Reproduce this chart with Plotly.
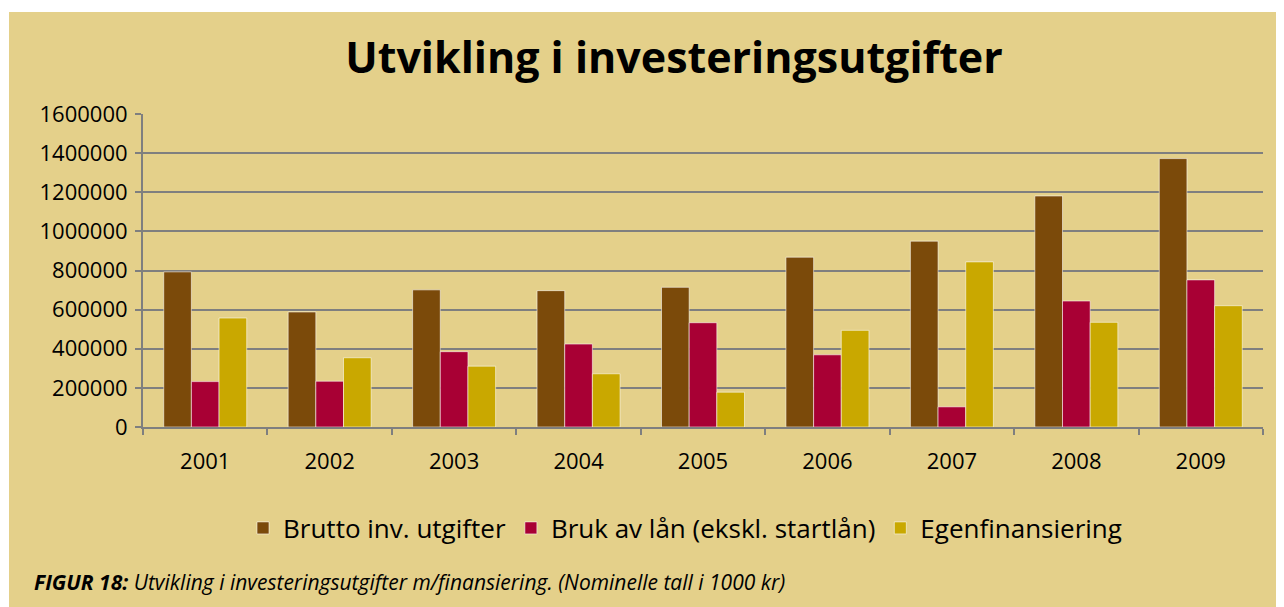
import plotly.graph_objects as go

years = ["2001", "2002", "2003", "2004", "2005", "2006", "2007", "2008", "2009"]
brutto = [793000, 588000, 701000, 697000, 714000, 868000, 950000, 1181000, 1372000]
bruk_laan = [232000, 234000, 385000, 424000, 533000, 369000, 103000, 644000, 752000]
egenfin = [557000, 354000, 311000, 272000, 178000, 494000, 844000, 535000, 620000]
series_names = ["Brutto inv. utgifter", "Bruk av lån (ekskl. startlån)", "Egenfinansiering"]
y_ticks = [0, 200000, 400000, 600000, 800000, 1000000, 1200000, 1400000, 1600000]

colors = ["#7B4A0A", "#A80034", "#C9A800"]
TAN = "#E4D08A"
GRID = "#7F7F7F"
FONT = "Open Sans"

OFF = 8  # page body margin
W, H = 1284 - OFF, 607 - OFF
# screen-space plot box
SL, SR, ST, SB = 143, 1263, 114, 427
L, R, T, B = SL - OFF, W - (SR - OFF), ST - OFF, H - (SB - OFF)
pw, ph = W - L - R, H - T - B

def px(x):  # screen x -> paper
    return (x - SL) / pw

def py(y):  # screen y -> paper
    return (SB - y) / ph

fig = go.Figure()
for name, vals, c in zip(series_names, [brutto, bruk_laan, egenfin], colors):
    fig.add_trace(go.Bar(
        x=years, y=vals, name=name,
        marker=dict(color=c, line=dict(color="rgba(255,255,255,0.55)", width=1)),
    ))

fig.update_layout(
    width=W, height=H,
    margin=dict(l=L, r=R, t=T, b=B),
    paper_bgcolor="white",
    plot_bgcolor="white",
    barmode="group",
    bargap=0.333,
    bargroupgap=0,
    font=dict(family=FONT, color="black", size=22),
    title=dict(
        text="<b>Utvikling i investeringsutgifter</b>",
        font=dict(family=FONT, size=43, color="black"),
        x=px(674), xref="paper", xanchor="center",
        y=1 - (58 - OFF) / H, yref="container", yanchor="middle",
    ),
    showlegend=True,
    legend=dict(
        orientation="h",
        x=px(243), xanchor="left",
        y=py(528), yanchor="middle",
        font=dict(family=FONT, size=26, color="black"),
        bgcolor="rgba(0,0,0,0)",
        traceorder="normal",
    ),
    xaxis=dict(
        type="category",
        showline=True, linecolor=GRID, linewidth=2,
        ticks="outside", tickson="boundaries", ticklen=6, tickwidth=2, tickcolor=GRID,
        showgrid=False,
        tickfont=dict(family=FONT, size=22),
        ticklabelstandoff=14,
    ),
    yaxis=dict(
        range=[0, 1600000],
        tickvals=y_ticks,
        ticktext=[str(v) for v in y_ticks],
        showline=True, linecolor=GRID, linewidth=2,
        ticks="outside", ticklen=6, tickwidth=2, tickcolor=GRID,
        showgrid=True, gridcolor=GRID, gridwidth=2,
        zeroline=False,
        tickfont=dict(family=FONT, size=22),
        ticklabelstandoff=3,
    ),
    shapes=[
        dict(type="rect", xref="paper", yref="paper", layer="below",
             x0=px(9), x1=px(1300), y0=py(620), y1=py(12),
             fillcolor=TAN, line=dict(width=0)),
    ],
    annotations=[
        dict(
            text="<b><i>FIGUR 18:</i></b><i> Utvikling i investeringsutgifter m/finansiering. (Nominelle tall i 1000 kr)</i>",
            xref="paper", yref="paper", x=px(32), y=py(582),
            xanchor="left", yanchor="middle", showarrow=False,
            font=dict(family=FONT, size=21, color="black"),
        ),
    ],
)

fig.write_html("out.html")
